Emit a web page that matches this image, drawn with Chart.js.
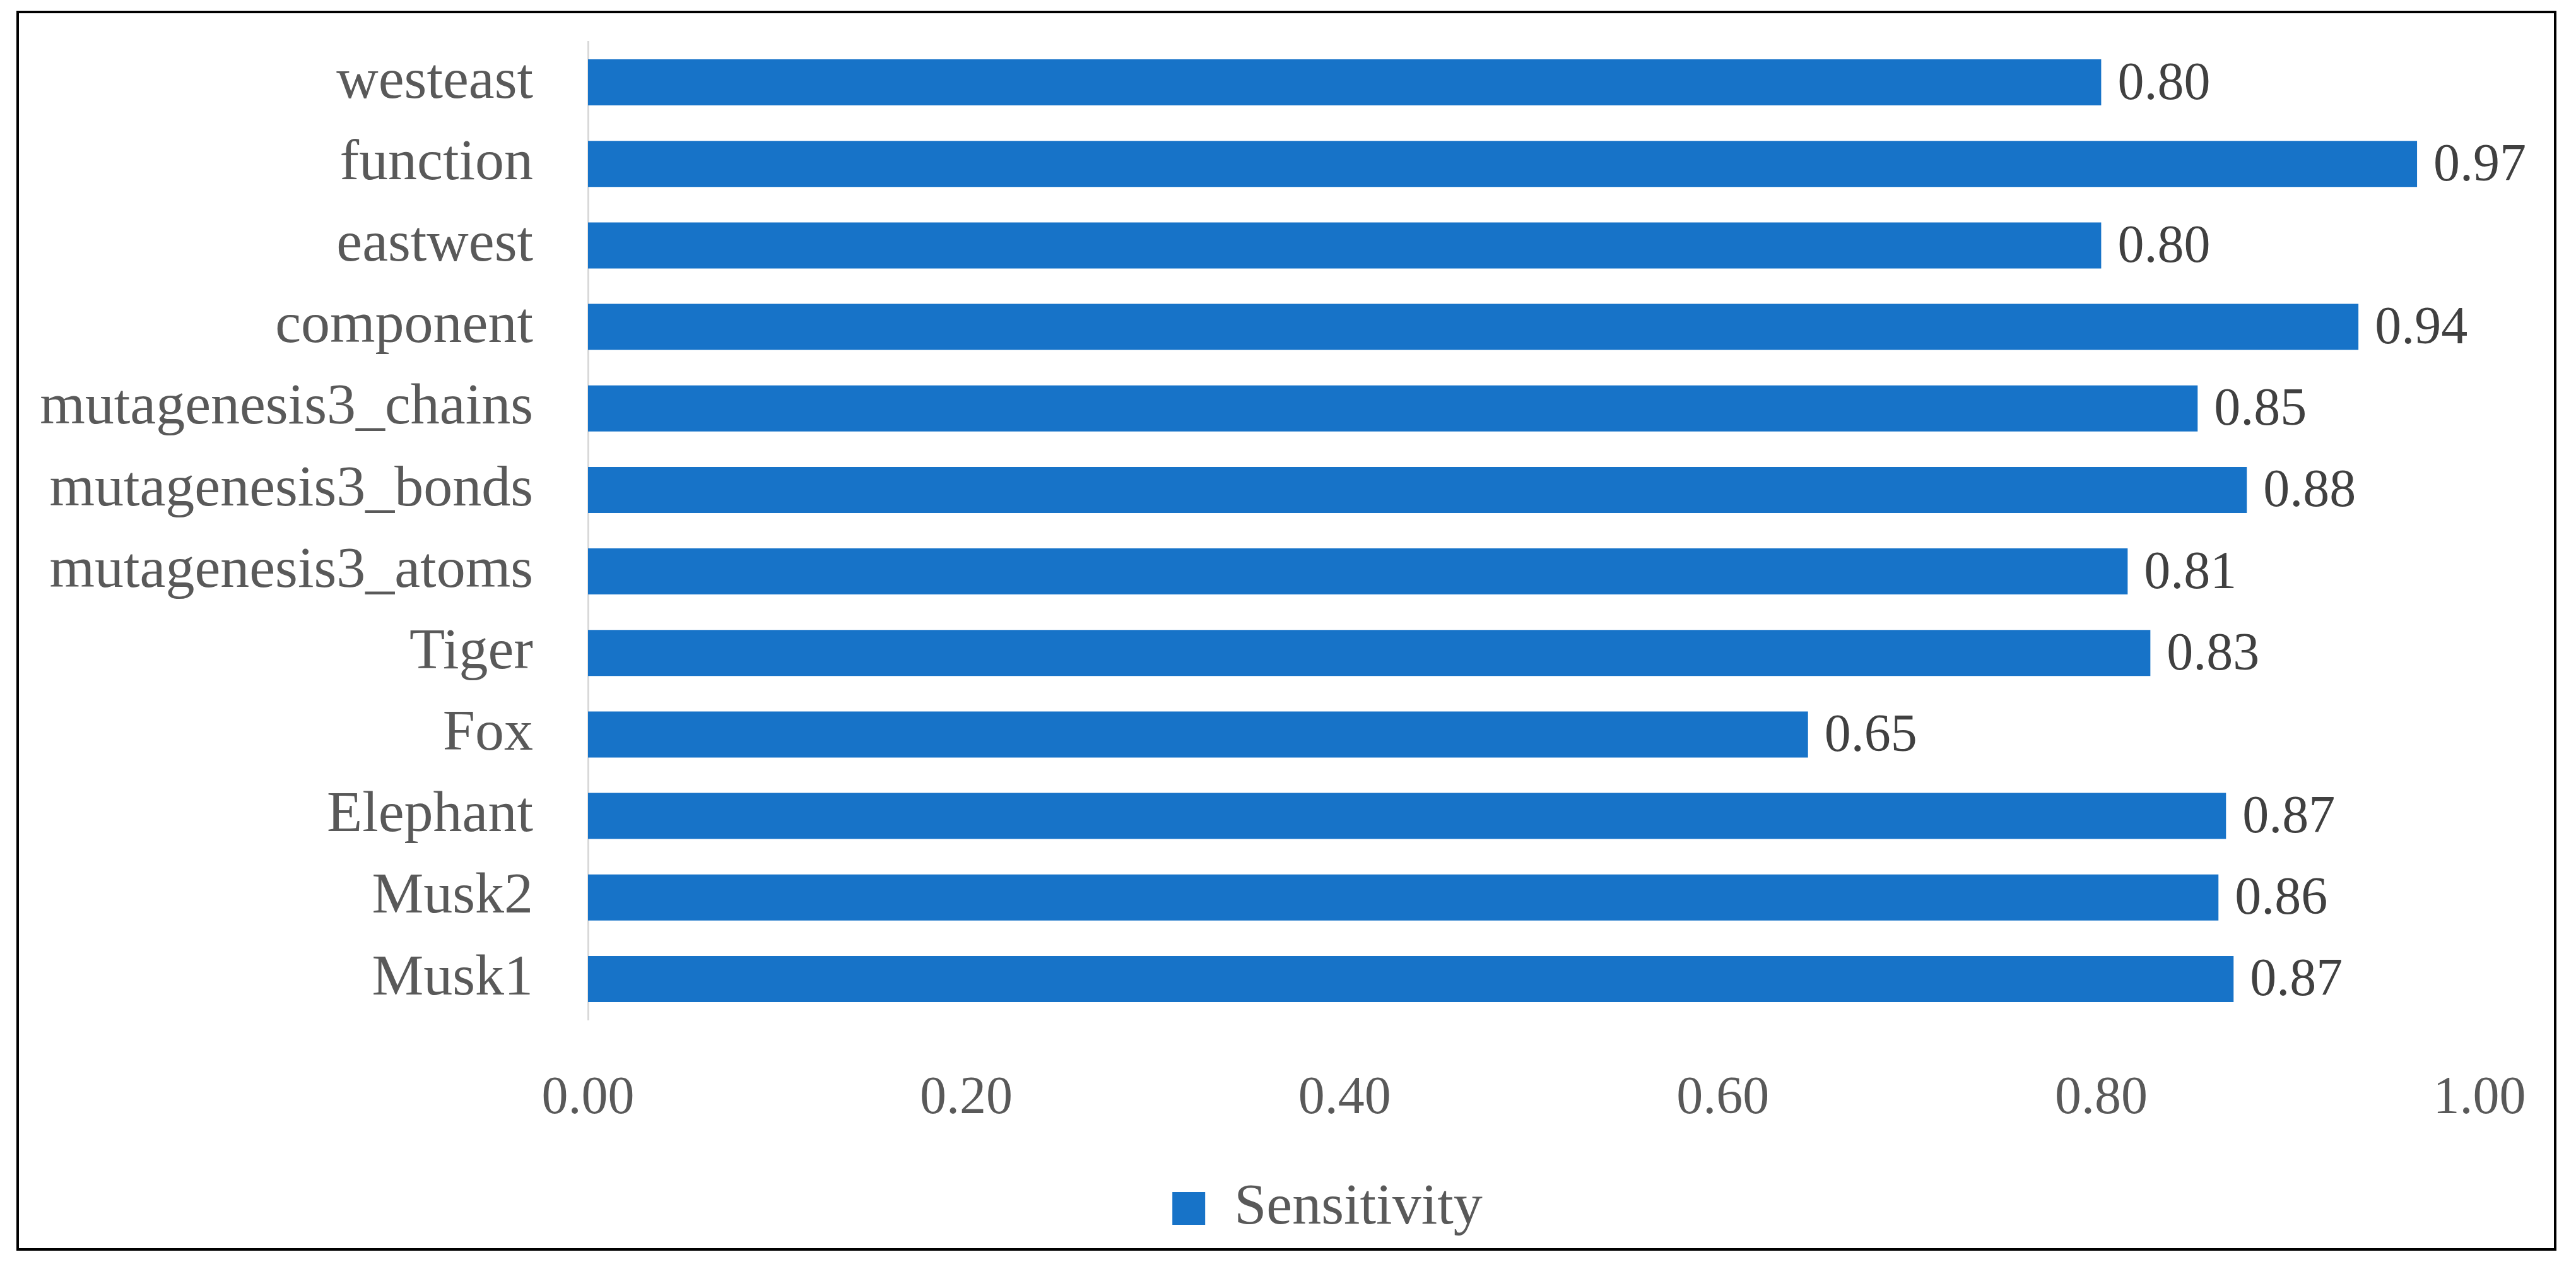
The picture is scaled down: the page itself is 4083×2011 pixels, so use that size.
<!DOCTYPE html>
<html>
<head>
<meta charset="utf-8">
<script src="https://cdn.jsdelivr.net/npm/chart.js@4"></script>
<style>
  html, body { margin: 0; padding: 0; background: #ffffff; }
  #wrap { width: 4083px; height: 2011px; position: relative; }
</style>
</head>
<body>
<div id="wrap"><canvas id="c"></canvas></div>
<script>
const categories = ["westeast", "function", "eastwest", "component", "mutagenesis3_chains",
  "mutagenesis3_bonds", "mutagenesis3_atoms", "Tiger", "Fox", "Elephant", "Musk2", "Musk1"];
const sensitivity = [0.80, 0.967, 0.80, 0.936, 0.851, 0.877, 0.814, 0.826, 0.645, 0.866, 0.862, 0.870];
const seriesName = "Sensitivity";
const xTicks = [0, 0.2, 0.4, 0.6, 0.8, 1.0];

const FONT = "'Liberation Serif', 'DejaVu Serif', serif";
const BLUE = "#1773C8";

const borderPlugin = {
  id: 'frame',
  afterLayout(chart) {
    // centre the legend under the figure the way the original does
    if (chart.legend) { chart.legend.left += 124; chart.legend.right += 124; }
  },
  afterDraw(chart) {
    const ctx = chart.ctx;
    ctx.save();
    ctx.strokeStyle = '#000000';
    ctx.lineWidth = 4;
    ctx.strokeRect(28, 19, 4022, 1961);
    ctx.restore();
  }
};

const valueLabels = {
  id: 'valueLabels',
  afterDatasetsDraw(chart) {
    const ctx = chart.ctx;
    ctx.save();
    ctx.font = "84px " + FONT;
    ctx.fillStyle = '#404040';
    ctx.textAlign = 'left';
    ctx.textBaseline = 'middle';
    chart.data.datasets.forEach((ds, di) => {
      const meta = chart.getDatasetMeta(di);
      meta.data.forEach((el, i) => {
        ctx.fillText(Number(ds.data[i]).toFixed(2), el.x + 26, el.y + 4);
      });
    });
    ctx.restore();
  }
};

new Chart(document.getElementById('c'), {
  type: 'bar',
  data: {
    labels: categories,
    datasets: [{
      label: seriesName,
      data: sensitivity,
      backgroundColor: BLUE,
      borderWidth: 0,
      categoryPercentage: 1.0,
      barPercentage: 0.565
    }]
  },
  options: {
    indexAxis: 'y',
    responsive: true,
    maintainAspectRatio: false,
    devicePixelRatio: 1,
    animation: false,
    layout: { padding: { left: 30, right: 153, top: 66, bottom: 40 } },
    scales: {
      x: {
        min: 0, max: 1,
        afterBuildTicks(scale) { scale.ticks = xTicks.map(v => ({ value: v })); },
        ticks: {
          callback: v => Number(v).toFixed(2),
          font: { family: FONT, size: 84 },
          color: '#595959',
          padding: 76,
          maxRotation: 0
        },
        grid: { display: false, drawTicks: false },
        border: { display: false },
        afterFit(scale) {
          scale.height = 233;
          scale.paddingLeft = 0; scale.paddingRight = 0;
          scale.paddingTop = 0; scale.paddingBottom = 0;
        }
      },
      y: {
        ticks: {
          font: { family: FONT, size: 92 },
          color: '#595959',
          padding: 87
        },
        grid: { display: false, drawTicks: false },
        border: { display: true, color: '#d9d9d9', width: 3 },
        afterFit(scale) {
          scale.width = 902;
          scale.paddingTop = 0; scale.paddingBottom = 0;
          scale.paddingLeft = 0; scale.paddingRight = 0;
        }
      }
    },
    plugins: {
      legend: {
        position: 'bottom',
        labels: {
          font: { family: FONT, size: 92 },
          color: '#595959',
          boxWidth: 52,
          boxHeight: 52,
          padding: 20
        }
      },
      tooltip: { enabled: false }
    }
  },
  plugins: [valueLabels, borderPlugin]
});
</script>
</body>
</html>
